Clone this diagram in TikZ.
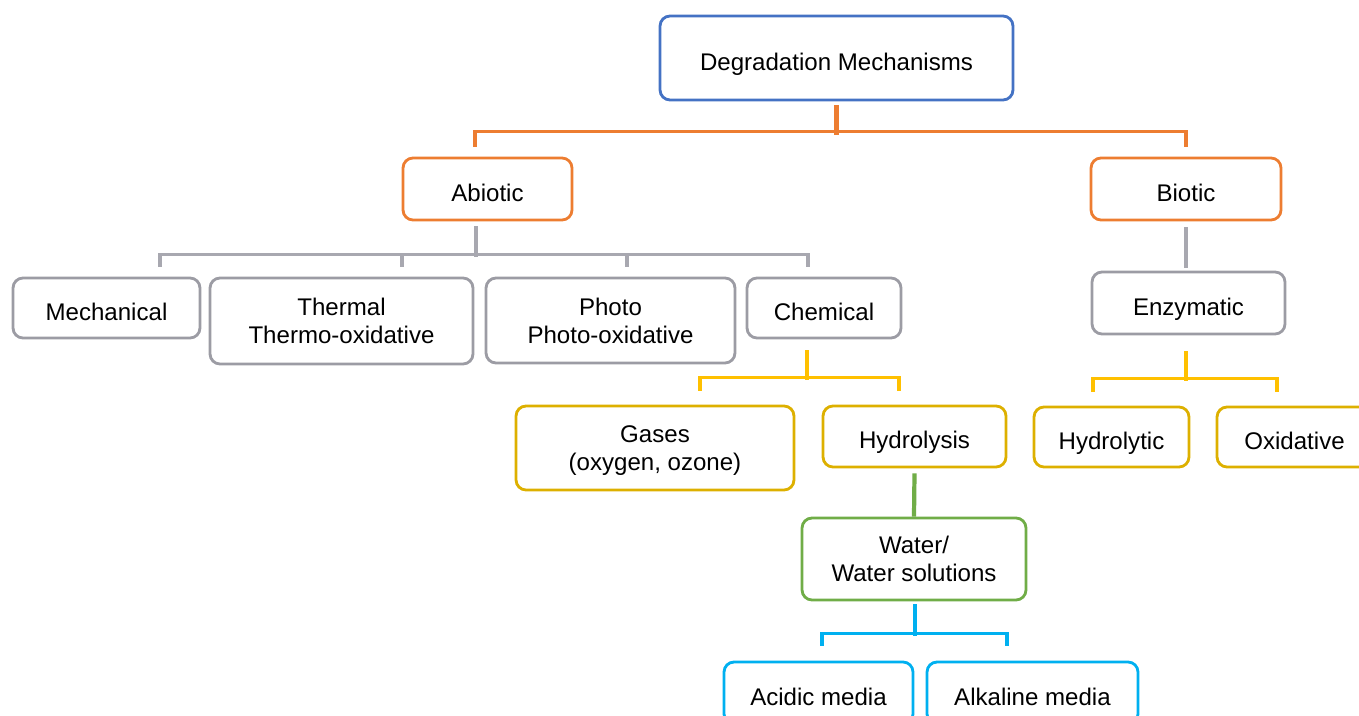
\documentclass[tikz,border=0pt]{standalone}
\usepackage{fontspec}
\setmainfont{Liberation Sans}
\usetikzlibrary{calc}
\definecolor{cblue}{HTML}{4472C4}
\definecolor{corange}{HTML}{ED7D31}
\definecolor{cgray}{HTML}{9C9CA4}
\definecolor{cgrayline}{HTML}{A8A8B0}
\definecolor{cyellow}{HTML}{FFC000}
\definecolor{cyellowbox}{HTML}{DDB000}
\definecolor{cgreen}{HTML}{70AD47}
\definecolor{ccyan}{HTML}{00B0F0}
\tikzset{
  box/.style={draw, line width=1.6pt, rounded corners=0.2cm, fill=white,
    align=center, inner sep=0pt, text depth=0pt, font=\fontsize{13.7}{16}\selectfont},
  oneline/.style={text height=13.7pt},
  bluebox/.style={box, draw=cblue},
  orangebox/.style={box, draw=corange},
  graybox/.style={box, draw=cgray},
  yellowbox/.style={box, draw=cyellowbox},
  greenbox/.style={box, draw=cgreen},
  cyanbox/.style={box, draw=ccyan},
  stemline/.style={line width=2.8pt},
  brline/.style={line width=2pt},
}
\begin{document}
\begin{tikzpicture}[x=0.02cm, y=-0.02cm]
\clip (0,0) rectangle (1359,716);
\fill[white] (0,0) rectangle (1359,716);
% nodes
\node[bluebox, oneline, minimum width=7.06cm, minimum height=1.68cm] (top) at (836.5,58) {Degradation Mechanisms};
\node[orangebox, oneline, minimum width=3.38cm, minimum height=1.24cm] (abiotic) at (487.5,189) {Abiotic};
\node[orangebox, oneline, minimum width=3.8cm, minimum height=1.24cm] (biotic) at (1186,189) {Biotic};
\node[graybox, oneline, minimum width=3.74cm, minimum height=1.2cm] (mech) at (106.5,308) {Mechanical};
\node[graybox, minimum width=5.26cm, minimum height=1.72cm] (thermal) at (341.5,321) {Thermal\\Thermo-oxidative};
\node[graybox, minimum width=4.98cm, minimum height=1.7cm] (photo) at (610.5,320.5) {Photo\\Photo-oxidative};
\node[graybox, oneline, minimum width=3.08cm, minimum height=1.2cm] (chem) at (824,308) {Chemical};
\node[graybox, oneline, minimum width=3.86cm, minimum height=1.24cm] (enzym) at (1188.5,303) {Enzymatic};
\node[yellowbox, minimum width=5.56cm, minimum height=1.68cm] (gases) at (655,448) {Gases\\(oxygen, ozone)};
\node[yellowbox, oneline, minimum width=3.66cm, minimum height=1.22cm] (hydrolysis) at (914.5,436.5) {Hydrolysis};
\node[yellowbox, oneline, minimum width=3.1cm, minimum height=1.2cm] (hydrolytic) at (1111.5,437) {Hydrolytic};
\node[yellowbox, oneline, minimum width=3.1cm, minimum height=1.2cm] (oxidative) at (1294.5,437) {Oxidative};
\node[greenbox, minimum width=4.48cm, minimum height=1.64cm] (water) at (914,559) {Water/\\Water solutions};
\node[cyanbox, oneline, minimum width=3.78cm, minimum height=1.24cm] (acidic) at (818.5,693) {Acidic media};
\node[cyanbox, oneline, minimum width=4.22cm, minimum height=1.24cm] (alkaline) at (1032.5,693) {Alkaline media};
% orange connectors
\draw[corange, stemline] ($(top.south)+(0,4)$) -- ($(top.south)+(0,34)$);
\draw[corange, brline] ($(abiotic.north)+(-12.5,-10)$) -- ++(0,-15) -| ($(biotic.north)+(0,-10)$);
% gray connectors
\draw[cgrayline, stemline] ($(abiotic.south)+(-11.5,5)$) -- ++(0,31);
\draw[cgrayline, brline] ($(mech.north)+(53.5,-10)$) -- ++(0,-12) -| ($(chem.north)+(-16,-10)$);
\draw[cgrayline, brline] ($(thermal.north)+(60.5,-10)$) -- ++(0,-13);
\draw[cgrayline, brline] ($(photo.north)+(16.5,-10)$) -- ++(0,-13);
\draw[cgrayline, stemline] ($(biotic.south)+(0,6)$) -- ($(enzym.north)+(-2.5,-3)$);
% yellow connectors
\draw[cyellow, stemline] ($(chem.south)+(-17,11)$) -- ++(0,30);
\draw[cyellow, brline] ($(gases.north)+(45,-14)$) -- ++(0,-13) -| ($(hydrolysis.north)+(-15.5,-14)$);
\draw[cyellow, stemline] ($(enzym.south)+(-2.5,16)$) -- ++(0,30);
\draw[cyellow, brline] ($(hydrolytic.north)+(-18.5,-14)$) -- ++(0,-13) -| ($(oxidative.north)+(-17.5,-14)$);
% green connector
\draw[cgreen, line width=2.4pt] ($(hydrolysis.south)+(0,5)$) -- (water.north);
% cyan connectors
\draw[ccyan, stemline] ($(water.south)+(1,3)$) -- ++(0,32);
\draw[ccyan, brline] ($(acidic.north)+(3.5,-15)$) -- ++(0,-12) -| ($(alkaline.north)+(-25.5,-15)$);
\end{tikzpicture}
\end{document}
